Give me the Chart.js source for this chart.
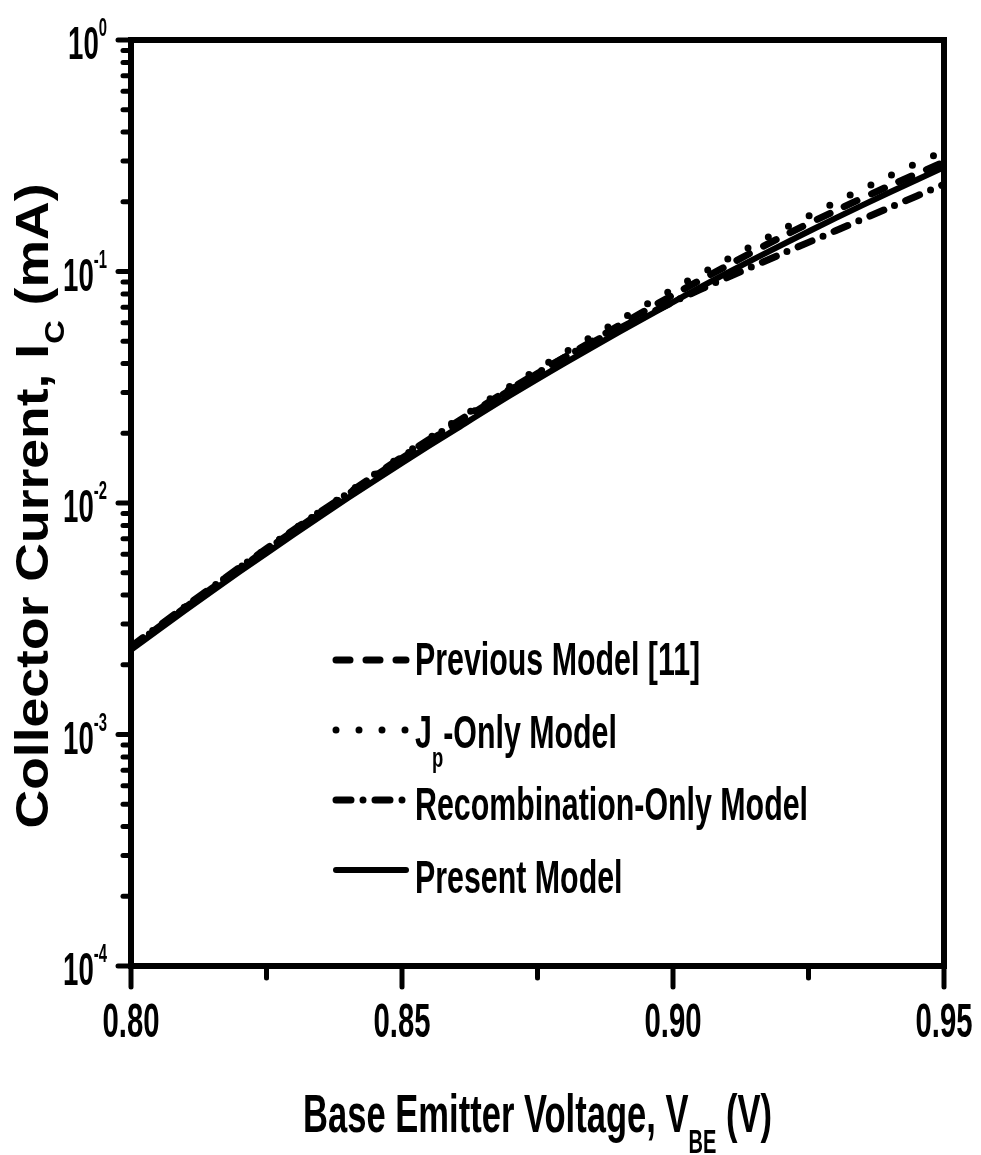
<!DOCTYPE html>
<html>
<head>
<meta charset="utf-8">
<script src="https://cdn.jsdelivr.net/npm/chart.js@4.4.1/dist/chart.umd.min.js"></script>
<style>
  html, body { margin: 0; padding: 0; background: #fff; }
  canvas { display: block; }
</style>
</head>
<body>
<canvas id="icChart" width="981" height="1155"></canvas>
<script>
// Base-emitter voltage (V)
const vbe = [0.80, 0.81, 0.82, 0.83, 0.84, 0.85, 0.86, 0.87, 0.88, 0.89, 0.90, 0.91, 0.92, 0.93, 0.94, 0.95];

// Collector current (mA)
const previousModel = [0.00237, 0.00353, 0.00520, 0.00757, 0.0109, 0.0156, 0.0220, 0.0308, 0.0426, 0.0583, 0.0791, 0.106, 0.141, 0.183, 0.235, 0.297];
const jpOnlyModel = [0.00237, 0.00355, 0.00525, 0.00767, 0.0111, 0.0160, 0.0227, 0.0320, 0.0446, 0.0614, 0.0838, 0.113, 0.151, 0.199, 0.259, 0.332];
const recombOnlyModel = [0.00240, 0.00357, 0.00526, 0.00766, 0.0110, 0.0158, 0.0223, 0.0311, 0.0426, 0.0566, 0.0738, 0.0942, 0.119, 0.150, 0.189, 0.238];
const presentModel = [0.00232, 0.00344, 0.00504, 0.00730, 0.0105, 0.0149, 0.0209, 0.0292, 0.0402, 0.0547, 0.0738, 0.0986, 0.130, 0.170, 0.220, 0.282];

const seriesLabels = ["Previous Model [11]", "J_{p}-Only Model", "Recombination-Only Model", "Present Model"];

// tick labels
const xTickValues = [0.80, 0.825, 0.85, 0.875, 0.90, 0.925, 0.95];
const xTickLabels = ["0.80", "", "0.85", "", "0.90", "", "0.95"];
const yDecades = [-4, -3, -2, -1, 0];
const yTickLabels = ["10^{-4}", "10^{-3}", "10^{-2}", "10^{-1}", "10^{0}"];

const xTitle = "Base Emitter Voltage, V_{BE} (V)";
const yTitle = "Collector Current, I_{C} (mA)";

const FONT = "'Liberation Sans', Arial, Helvetica, sans-serif";

function toPoints(ys) {
  return vbe.map((v, i) => ({ x: v, y: ys[i] }));
}

// split "abc_{sub}def^{sup}" into segments
function parseRich(str) {
  const parts = [];
  const re = /([_^])\{([^}]*)\}/g;
  let last = 0, m;
  while ((m = re.exec(str)) !== null) {
    if (m.index > last) parts.push({ text: str.slice(last, m.index), kind: "n" });
    parts.push({ text: m[2], kind: m[1] === "_" ? "sub" : "sup" });
    last = re.lastIndex;
  }
  if (last < str.length) parts.push({ text: str.slice(last), kind: "n" });
  return parts;
}

function drawRich(ctx, str, x, y, o) {
  const parts = parseRich(str);
  const fontFor = (p) => "bold " + (p.kind === "n" ? o.size : o.small) + "px " + FONT;
  let natural = 0;
  parts.forEach((p) => {
    ctx.font = fontFor(p);
    p.w = ctx.measureText(p.text).width;
    p.sx = p.kind === "n" ? 1 : (o.smallSx || 1);
    natural += p.w * p.sx;
  });
  const sx = o.fitWidth ? o.fitWidth / natural : o.sx;
  const total = natural * sx;
  let cx = x;
  if (o.align === "center") cx = x - total / 2;
  else if (o.align === "right") cx = x - total;
  parts.forEach((p) => {
    let dy = 0;
    if (p.kind === "sub") dy = o.drop;
    if (p.kind === "sup") dy = -o.rise;
    ctx.save();
    ctx.font = fontFor(p);
    ctx.fillStyle = "#000";
    ctx.textAlign = "left";
    ctx.textBaseline = "alphabetic";
    ctx.translate(cx, y + dy);
    ctx.scale(sx * p.sx, 1);
    ctx.fillText(p.text, 0, 0);
    ctx.restore();
    cx += p.w * p.sx * sx;
  });
}

const framePlugin = {
  id: "frame",
  afterDraw(chart) {
    const ctx = chart.ctx;
    const a = chart.chartArea;
    const xs = chart.scales.x;
    const ys = chart.scales.y;
    ctx.save();
    ctx.strokeStyle = "#000";
    ctx.lineCap = "round";

    // y ticks: decades long, 2..9 short, pointing out
    ctx.lineWidth = 5;
    yDecades.forEach((e, i) => {
      for (let m = 1; m <= 9; m++) {
        const v = m * Math.pow(10, e);
        if (v > 1.0001) break;
        const py = ys.getPixelForValue(v);
        const len = m === 1 ? 13 : 8;
        ctx.beginPath();
        ctx.moveTo(a.left - len, py);
        ctx.lineTo(a.left, py);
        ctx.stroke();
      }
      const py = ys.getPixelForValue(Math.pow(10, e));
      drawRich(ctx, yTickLabels[i], 107, py + 19, {
        size: 46, small: 26, sx: 0.6, smallSx: 0.95, rise: 23, align: "right"
      });
    });

    // x ticks
    xTickValues.forEach((v, i) => {
      const px = xs.getPixelForValue(v);
      const major = xTickLabels[i] !== "";
      ctx.lineWidth = 5;
      ctx.beginPath();
      ctx.moveTo(px, a.bottom);
      ctx.lineTo(px, a.bottom + (major ? 21 : 12));
      ctx.stroke();
      if (major) {
        drawRich(ctx, xTickLabels[i], px, 1037, { size: 48, small: 30, sx: 0.61, align: "center" });
      }
    });

    // frame
    ctx.lineWidth = 6;
    ctx.lineCap = "square";
    ctx.strokeRect(a.left, a.top, a.right - a.left, a.bottom - a.top);

    // axis titles
    drawRich(ctx, xTitle, (a.left + a.right) / 2, 1132, {
      size: 54, small: 34, sx: 0.64, smallSx: 0.92, drop: 21, align: "center"
    });
    ctx.save();
    ctx.translate(48, 506);
    ctx.rotate(-Math.PI / 2);
    drawRich(ctx, yTitle, 0, 0, {
      size: 46, small: 28, fitWidth: 645, drop: 16, align: "center"
    });
    ctx.restore();

    // legend
    chart.data.datasets.forEach((ds, i) => {
      const ly = 660 + i * 70;
      ctx.save();
      ctx.lineWidth = ds.borderWidth;
      ctx.lineCap = "round";
      ctx.setLineDash(ds.borderDash || []);
      ctx.beginPath();
      ctx.moveTo(336, ly);
      ctx.lineTo(406, ly);
      ctx.stroke();
      ctx.restore();
      drawRich(ctx, ds.label, 415, 675 + i * 72.5, {
        size: 46, small: 28, sx: 0.66, smallSx: 1.0, drop: 19, align: "left"
      });
    });
    ctx.restore();
  }
};

function lineSet(label, ys, dash, width) {
  return {
    label: label,
    data: toPoints(ys),
    borderColor: "#000",
    backgroundColor: "#000",
    borderWidth: width,
    borderDash: dash,
    borderCapStyle: "round",
    borderJoinStyle: "round",
    pointRadius: 0,
    tension: 0.3,
    fill: false
  };
}

new Chart(document.getElementById("icChart"), {
  type: "line",
  data: {
    datasets: [
      lineSet(seriesLabels[0], previousModel, [14, 16], 7),
      lineSet(seriesLabels[1], jpOnlyModel, [0, 23], 7),
      lineSet(seriesLabels[2], recombOnlyModel, [15, 12, 0, 12], 7),
      lineSet(seriesLabels[3], presentModel, [], 6)
    ]
  },
  options: {
    responsive: false,
    animation: false,
    devicePixelRatio: 1,
    layout: { padding: { top: 40, right: 37, left: 0, bottom: 0 } },
    plugins: {
      legend: { display: false },
      tooltip: { enabled: false },
      title: { display: false }
    },
    scales: {
      x: {
        type: "linear",
        min: 0.80,
        max: 0.95,
        grid: { display: false },
        border: { display: false },
        ticks: { display: false, stepSize: 0.025 },
        afterFit: (s) => { s.height = 189; }
      },
      y: {
        type: "logarithmic",
        min: 1e-4,
        max: 1,
        grid: { display: false },
        border: { display: false },
        ticks: { display: false },
        afterFit: (s) => { s.width = 131; }
      }
    }
  },
  plugins: [framePlugin]
});
</script>
</body>
</html>
